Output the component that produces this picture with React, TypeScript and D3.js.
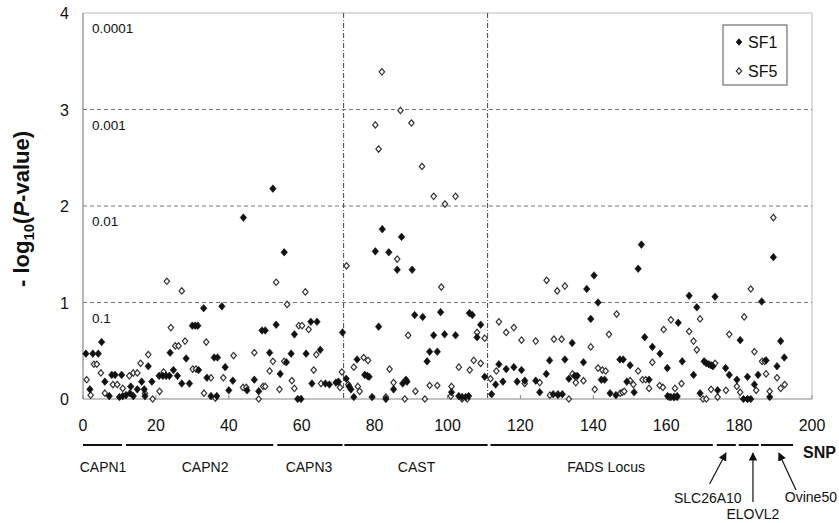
import React from "react";
import * as d3 from "d3";

const xTicks = [0, 20, 40, 60, 80, 100, 120, 140, 160, 180, 200];
const yTicks = [0, 1, 2, 3, 4];
const pLabels = [
  { y: 4, text: "0.0001" },
  { y: 3, text: "0.001" },
  { y: 2, text: "0.01" },
  { y: 1, text: "0.1" },
];
const regionBreaks = [71.5, 111];

// [SNP index, -log10(P)] for SF1 (filled)
const sf1Points: [number, number][] = [
  [0.8, 0.47], [1.9, 0.1], [2.7, 0.47], [4.2, 0.47], [5.1, 0.59], [6.0, 0.18], [7.2, 0.03], [7.9, 0.25],
  [8.8, 0.25], [10.6, 0.25], [10.0, 0.02], [10.9, 0.03], [11.8, 0.04], [12.9, 0.06], [13.1, 0.13], [13.8, 0.03],
  [14.9, 0.1], [16.1, 0.18], [16.8, 0.1], [17.9, 0.34], [17.0, 0.03], [18.9, 0.18], [20.9, 0.24], [21.9, 0.24],
  [22.8, 0.24], [23.7, 0.24], [23.9, 0.48], [24.8, 0.3], [25.9, 0.24], [27.1, 0.16], [29.2, 0.16], [28.3, 0.42],
  [30.0, 0.76], [30.8, 0.76], [31.5, 0.76], [31.7, 0.3], [33.1, 0.94], [34.0, 0.22], [35.1, 0.03], [36.0, 0.43],
  [36.9, 0.43], [36.7, 0.03], [38.1, 0.96], [39.0, 0.33], [40.0, 0.09], [41.1, 0.19], [44.0, 1.88], [45.0, 0.09],
  [47.0, 0.2], [48.2, 0.08], [49.1, 0.71], [50.0, 0.71], [51.2, 0.48], [52.1, 2.18], [53.0, 0.77], [54.1, 0.26],
  [55.2, 1.52], [55.8, 0.38], [57.1, 0.47], [58.0, 0.67], [58.9, 0.0], [59.8, 0.0], [61.2, 0.47], [62.5, 0.8],
  [64.2, 0.8], [65.1, 0.51], [62.8, 0.16], [66.5, 0.16],
  [67.6, 0.15], [69.4, 0.17], [70.1, 0.18], [71.2, 0.69], [72.2, 0.21], [73.0, 0.13], [73.5, 0.1], [74.3, 0.02],
  [75.2, 0.41], [77.3, 0.25], [78.0, 0.24], [78.5, 0.23], [79.3, 0.02], [80.2, 1.53], [81.1, 0.75], [82.1, 1.76],
  [83.1, 0.0], [83.9, 1.52], [85.2, 0.1], [86.2, 1.34], [87.4, 1.68], [87.7, 0.16], [88.6, 0.2], [88.9, 0.18],
  [90.3, 1.34], [91.0, 0.87], [93.2, 0.85], [94.4, 0.39], [95.1, 0.49], [97.2, 0.49], [96.2, 0.66], [98.1, 0.9],
  [99.2, 0.67], [101.1, 0.07], [102.2, 0.66], [103.1, 0.03], [104.0, 0.02], [105.0, 0.02], [105.8, 0.03],
  [106.0, 0.89], [106.8, 0.87], [108.1, 0.64], [109.1, 0.77], [110.2, 0.23], [112.1, 0.05], [113.2, 0.15],
  [114.1, 0.36], [115.2, 0.18], [116.1, 0.31], [118.2, 0.33], [119.1, 0.18], [120.3, 0.3], [121.2, 0.19],
  [124.2, 0.19], [125.3, 0.07], [127.1, 0.26], [128.0, 0.4], [129.0, 0.05], [130.3, 0.05], [131.5, 0.05],
  [132.2, 0.41], [133.3, 0.21], [134.2, 0.58], [134.9, 0.24], [135.6, 0.24],
  [137.3, 0.38], [138.2, 1.14], [139.3, 0.83], [140.2, 1.28], [141.3, 1.0], [142.2, 0.2], [143.1, 0.2],
  [144.6, 0.06], [146.2, 0.04], [147.3, 0.41], [148.2, 0.41], [149.2, 0.18], [150.1, 0.35], [151.2, 0.07],
  [152.3, 1.35], [153.2, 1.6], [154.1, 0.64], [155.3, 0.2], [156.2, 0.54], [158.3, 0.47], [160.3, 0.32],
  [160.4, 0.03], [161.3, 0.02], [162.3, 0.02], [163.0, 0.03], [163.3, 0.79], [164.4, 0.39], [166.3, 1.07],
  [167.5, 0.25], [168.4, 0.95], [169.3, 0.06], [170.4, 0.39], [171.0, 0.37], [171.7, 0.36], [172.3, 0.35],
  [172.8, 0.34], [173.4, 1.06], [174.1, 0.09], [176.3, 0.32], [177.3, 0.25], [179.4, 0.2], [180.3, 0.61],
  [181.2, 0.0], [182.3, 0.0], [183.2, 0.0], [182.3, 0.23], [184.2, 0.15], [185.2, 0.25], [186.2, 1.01],
  [187.4, 0.4], [188.4, 0.02], [189.4, 1.47], [190.4, 0.34], [191.4, 0.6], [192.4, 0.43],
];

// [SNP index, -log10(P)] for SF5 (open)
const sf5Points: [number, number][] = [
  [1.0, 0.2], [2.1, 0.04], [3.0, 0.36], [3.8, 0.36], [4.9, 0.27], [6.0, 0.06], [8.2, 0.15], [9.4, 0.15],
  [10.9, 0.11], [12.7, 0.24], [13.8, 0.27], [14.9, 0.27], [15.8, 0.37], [17.0, 0.06], [17.9, 0.46], [19.1, 0.0],
  [21.0, 0.08], [22.1, 0.28], [23.0, 1.22], [24.1, 0.74], [25.3, 0.55], [26.2, 0.55], [27.1, 1.12], [28.0, 0.6],
  [30.1, 0.31], [31.0, 0.31], [33.2, 0.06], [33.8, 0.59], [35.1, 0.22], [36.3, 0.01], [38.5, 0.22], [41.3, 0.45],
  [43.9, 0.12], [44.8, 0.12], [47.0, 0.48], [48.2, 0.0], [49.4, 0.13], [50.0, 0.13], [51.2, 0.29], [52.1, 0.39],
  [53.0, 1.21], [53.9, 0.1], [55.2, 0.39], [56.0, 0.98], [57.3, 0.19], [58.0, 0.11], [59.2, 0.76], [60.1, 0.76],
  [61.0, 1.11], [61.9, 0.72], [63.3, 0.3], [64.0, 0.46], [65.3, 0.16],
  [70.5, 0.12], [71.0, 0.28], [72.3, 1.38], [72.8, 0.15], [74.3, 0.33], [75.4, 0.13], [75.9, 0.08], [77.0, 0.43],
  [78.2, 0.4], [80.2, 2.84], [81.1, 2.59], [82.0, 3.39], [83.1, 0.02], [84.1, 0.31], [85.2, 0.17], [86.2, 1.45],
  [87.1, 2.99], [88.3, 0.0], [89.2, 0.66], [90.1, 2.86], [91.2, 0.08], [93.0, 2.41], [93.8, 0.0], [95.1, 0.14],
  [96.2, 2.1], [97.2, 0.14], [98.3, 1.16], [99.3, 2.02], [100.9, 0.03], [101.1, 0.13], [102.2, 2.1], [103.1, 0.33],
  [104.0, 0.0], [105.4, 0.0], [106.1, 0.3], [107.2, 0.4], [108.1, 0.69], [109.1, 0.37], [110.2, 0.63],
  [111.8, 0.21], [113.4, 0.29], [114.1, 0.8], [116.1, 0.69], [118.2, 0.74], [120.3, 0.61], [121.2, 0.16],
  [124.2, 0.6], [125.3, 0.17], [127.2, 1.23], [128.1, 0.04], [129.2, 0.62], [130.1, 1.12], [130.3, 0.04],
  [131.3, 0.62], [132.2, 1.17], [133.3, 0.0], [134.3, 0.26],
  [135.2, 0.17], [137.3, 0.19], [139.3, 0.54], [140.4, 0.1], [141.3, 0.32], [142.5, 0.3], [143.4, 0.29],
  [144.3, 0.67], [146.4, 0.88], [147.4, 0.06], [148.0, 0.07], [148.5, 0.08], [150.1, 0.19], [151.0, 0.15],
  [152.3, 0.29], [153.5, 0.2], [154.4, 0.2], [155.3, 0.11], [156.2, 0.38], [158.2, 0.14], [159.1, 0.12],
  [159.3, 0.72], [160.8, 0.02], [161.3, 0.82], [162.0, 0.02], [162.4, 0.11], [163.0, 0.02], [164.2, 0.16],
  [166.3, 0.7], [167.5, 0.6], [168.4, 0.51], [169.3, 0.83], [170.1, 0.0], [171.0, 0.0], [172.3, 0.1],
  [173.4, 0.37], [174.1, 0.02], [176.4, 0.09], [177.3, 0.67], [179.4, 0.13], [180.3, 0.07], [181.4, 0.85],
  [182.3, 0.0], [183.2, 1.14], [184.2, 0.49], [184.7, 0.09], [186.3, 0.39], [187.0, 0.39], [187.4, 0.26],
  [188.4, 0.08], [189.4, 1.88], [190.4, 0.22], [191.4, 0.11], [192.5, 0.15],
];

const genes = [
  { name: "CAPN1", start: 0, end: 10.7, label: 5.5 },
  { name: "CAPN2", start: 11.8, end: 52.2, label: 33.5 },
  { name: "CAPN3", start: 53.3, end: 71.2, label: 62 },
  { name: "CAST", start: 71.7, end: 111, label: 91.5 },
  { name: "FADS Locus", start: 111.8, end: 172.8, label: 143.5 },
  { name: "SLC26A10", start: 173.9, end: 179.1, label: 171.4 },
  { name: "ELOVL2", start: 179.9, end: 185.4, label: 183.8 },
  { name: "Ovine50", start: 186, end: 194.8, label: 199.7 },
];

const W = 839;
const H = 523;
const x = d3.scaleLinear().domain([0, 200]).range([83, 812]);
const y = d3.scaleLinear().domain([0, 4]).range([399, 13]);

const diamondType = {
  draw(ctx: any, size: number) {
    const h = Math.sqrt(size) * 0.6;
    const w = h * 0.85;
    ctx.moveTo(0, -h);
    ctx.lineTo(w, 0);
    ctx.lineTo(0, h);
    ctx.lineTo(-w, 0);
    ctx.closePath();
  },
};
const filledPath = d3.symbol().type(diamondType as any).size(40)() as string;
const openPath = d3.symbol().type(diamondType as any).size(28)() as string;

export default function App() {
  const font = "Liberation Sans, Arial, Helvetica, sans-serif";
  const lineY = 445;
  return (
    <svg width={W} height={H} style={{ position: "absolute", left: 0, top: 0, background: "#fff" }} fontFamily={font}>
      <rect x={0} y={0} width={W} height={H} fill="#fff" />
      {/* frame */}
      <line x1={x(0)} x2={x(200)} y1={y(4)} y2={y(4)} stroke="#bbb" strokeWidth={1} />
      <line x1={x(200)} x2={x(200)} y1={y(4)} y2={y(0)} stroke="#bbb" strokeWidth={1} />
      {/* horizontal dashed gridlines */}
      {[1, 2, 3].map((v) => (
        <line key={v} x1={x(0)} x2={x(200)} y1={y(v)} y2={y(v)} stroke="#777" strokeWidth={1} strokeDasharray="4,3" />
      ))}
      {/* vertical dash-dot region lines */}
      {regionBreaks.map((b) => (
        <line key={b} x1={x(b)} x2={x(b)} y1={y(4)} y2={y(0)} stroke="#444" strokeWidth={1} strokeDasharray="5,2,1,2" />
      ))}
      {/* axes */}
      <line x1={x(0)} x2={x(0)} y1={y(4)} y2={y(0)} stroke="#888" strokeWidth={1.2} />
      <line x1={x(0)} x2={x(200)} y1={y(0)} y2={y(0)} stroke="#888" strokeWidth={1.2} />
      {xTicks.map((t) => (
        <g key={t}>
          <line x1={x(t)} x2={x(t)} y1={y(0)} y2={y(0) - 4} stroke="#888" />
          <text x={x(t)} y={431} fontSize={16} textAnchor="middle" fill="#111">{t}</text>
        </g>
      ))}
      {yTicks.map((t) => (
        <text key={t} x={69} y={y(t) + 6} fontSize={16} textAnchor="end" fill="#111">{t}</text>
      ))}
      {pLabels.map((p) => (
        <text key={p.text} x={92} y={y(p.y) + 20} fontSize={13.5} fill="#111">{p.text}</text>
      ))}
      {/* y-axis title */}
      <text transform={`translate(29, 209) rotate(-90)`} textAnchor="middle" fontSize={22} fontWeight="bold" fill="#111">
        - log<tspan fontSize={15} dy={5}>10</tspan><tspan dy={-5}>(</tspan><tspan fontStyle="italic">P</tspan>-value)
      </text>
      {/* points */}
      {sf5Points.map(([s, v], i) => (
        <path key={"o" + i} d={openPath} transform={`translate(${x(s)},${y(v)})`} fill="#fff" stroke="#333" strokeWidth={1.2} />
      ))}
      {sf1Points.map(([s, v], i) => (
        <path key={"f" + i} d={filledPath} transform={`translate(${x(s)},${y(v)})`} fill="#111" stroke="#111" strokeWidth={0.6} />
      ))}
      {/* legend */}
      <rect x={723} y={25} width={64} height={60} fill="#fff" stroke="#555" strokeWidth={1} />
      <path d={filledPath} transform="translate(739,42)" fill="#111" />
      <text x={748} y={48} fontSize={16} fill="#111">SF1</text>
      <path d={openPath} transform="translate(739,71)" fill="#fff" stroke="#333" strokeWidth={1.2} />
      <text x={748} y={77} fontSize={16} fill="#111">SF5</text>
      {/* gene segments */}
      <defs>
        <marker id="ah" viewBox="0 0 10 10" refX={9} refY={5} markerWidth={7} markerHeight={7} orient="auto">
          <path d="M0,0 L10,5 L0,10 z" fill="#111" />
        </marker>
      </defs>
      {genes.map((g) => (
        <line key={g.name} x1={x(g.start)} x2={x(g.end)} y1={lineY} y2={lineY} stroke="#111" strokeWidth={2} />
      ))}
      {genes.slice(0, 5).map((g) => (
        <text key={g.name} x={x(g.label)} y={472} fontSize={14} textAnchor="middle" fill="#111">{g.name}</text>
      ))}
      <text x={x(genes[5].label)} y={503} fontSize={14} textAnchor="middle" fill="#111">{genes[5].name}</text>
      <text x={x(genes[6].label)} y={519} fontSize={14} textAnchor="middle" fill="#111">{genes[6].name}</text>
      <text x={x(genes[7].label)} y={502} fontSize={14} textAnchor="middle" fill="#111">{genes[7].name}</text>
      <line x1={x(171.9)} y1={484} x2={x(176.4)} y2={453} stroke="#111" strokeWidth={1.2} markerEnd="url(#ah)" />
      <line x1={x(183.8)} y1={502} x2={x(183.8)} y2={453} stroke="#111" strokeWidth={1.2} markerEnd="url(#ah)" />
      <line x1={x(195.6)} y1={490} x2={x(190.9)} y2={453} stroke="#111" strokeWidth={1.2} markerEnd="url(#ah)" />
      <text x={803} y={458} fontSize={16} fontWeight="bold" fill="#111">SNP</text>
    </svg>
  );
}
